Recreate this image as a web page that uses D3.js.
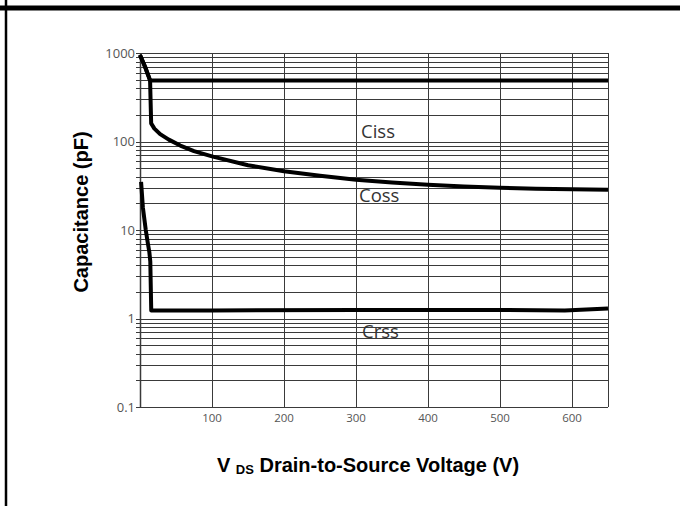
<!DOCTYPE html>
<html><head><meta charset="utf-8">
<script src="https://cdn.jsdelivr.net/npm/d3@7"></script>
<style>body{margin:0;background:#fff}svg{display:block}</style>
</head><body>
<svg id="c" width="680" height="506"></svg>
<script>
const xTicks = [100, 200, 300, 400, 500, 600];
const yTicks = [0.1, 1, 10, 100, 1000];
const yTickLabels = ["0.1", "1", "10", "100", "1000"];
const seriesNames = ["Ciss", "Coss", "Crss"];
const cissV = [0, 7, 14, 650];
const cissC = [950, 700, 490, 490];
const cossV = [0, 7, 14, 15.5, 20, 28, 40, 56, 75, 100, 150, 200, 250, 300, 350, 400, 450, 500, 550, 600, 650];
const cossC = [950, 700, 490, 160, 140, 121, 105, 90, 78, 68, 54, 46, 41, 37, 34.5, 32.5, 31, 30, 29.3, 28.8, 28.5];
const crssV = [1.5, 4, 8, 11, 13, 14.3, 15.6, 100, 300, 500, 590, 620, 650];
const crssC = [35, 18, 10, 7, 5.6, 4.4, 1.23, 1.23, 1.25, 1.25, 1.23, 1.26, 1.3];

const svg = d3.select("#c");
const L = 140, R = 608, T = 53, B = 407;
const x = d3.scaleLinear().domain([0, 650]).range([L, R]);
const y = d3.scaleLog().domain([0.1, 1000]).range([B, T]);

// outer frame lines
svg.append("line").attr("x1", 0).attr("x2", 680).attr("y1", 8).attr("y2", 8).attr("stroke", "#000").attr("stroke-width", 5);
svg.append("line").attr("x1", 6).attr("x2", 6).attr("y1", 0).attr("y2", 506).attr("stroke", "#000").attr("stroke-width", 2.5);

// horizontal grid (every integer per decade)
const minor = [];
for (let e = -1; e < 3; e++) for (let k = 1; k <= 10; k++) minor.push(k * Math.pow(10, e));
const gridCol = "#3a3a3a";
svg.append("g").selectAll("line").data(minor).join("line")
  .attr("x1", L - 4).attr("x2", R)
  .attr("y1", d => Math.round(y(d)) + 0.5).attr("y2", d => Math.round(y(d)) + 0.5)
  .attr("stroke", gridCol).attr("stroke-width", 1);
// vertical grid
svg.append("g").selectAll("line").data([0].concat(xTicks, [650])).join("line")
  .attr("x1", d => Math.round(x(d)) + 0.5).attr("x2", d => Math.round(x(d)) + 0.5)
  .attr("y1", T).attr("y2", B)
  .attr("stroke", gridCol).attr("stroke-width", d => (d === 0 ? 1.5 : 1));

// tick labels
svg.append("g").selectAll("text").data(yTicks).join("text")
  .attr("x", L - 5).attr("y", d => y(d) + 4.5).attr("text-anchor", "end")
  .attr("font-family", "Open Sans, sans-serif").attr("font-size", 13).attr("fill", "#555")
  .text((d, i) => yTickLabels[i]);
svg.append("g").selectAll("text").data(xTicks).join("text")
  .attr("x", d => x(d)).attr("y", B + 15).attr("text-anchor", "middle")
  .attr("font-family", "Open Sans, sans-serif").attr("font-size", 11.5).attr("fill", "#555")
  .text(d => d);

// curves
const line = d3.line().x(d => x(d[0])).y(d => y(d[1]));
const series = [d3.zip(cissV, cissC), d3.zip(cossV, cossC), d3.zip(crssV, crssC)];
svg.append("g").selectAll("path").data(series).join("path")
  .attr("d", line).attr("fill", "none").attr("stroke", "#000")
  .attr("stroke-width", 4).attr("stroke-linejoin", "round");

// series labels
const lblX = [361, 359, 362];
const lblY = [138, 202, 338];
svg.append("g").selectAll("text").data(seriesNames).join("text")
  .attr("x", (d, i) => lblX[i]).attr("y", (d, i) => lblY[i])
  .attr("font-family", "Open Sans, sans-serif").attr("font-size", 18.5).attr("fill", "#333")
  .text(d => d);

// axis titles
svg.append("text").attr("transform", "translate(88,212) rotate(-90)")
  .attr("text-anchor", "middle").attr("font-family", "Liberation Sans, Arial, sans-serif")
  .attr("font-weight", "bold").attr("font-size", 20).attr("fill", "#000")
  .text("Capacitance (pF)");
const xt = svg.append("text").attr("x", 368).attr("y", 472).attr("text-anchor", "middle")
  .attr("font-family", "Liberation Sans, Arial, sans-serif").attr("font-weight", "bold")
  .attr("font-size", 20).attr("fill", "#000");
xt.append("tspan").text("V ");
xt.append("tspan").attr("font-size", 13).attr("dy", 2).text("DS");
xt.append("tspan").attr("dy", -2).text(" Drain-to-Source Voltage (V)");
</script>
</body></html>
